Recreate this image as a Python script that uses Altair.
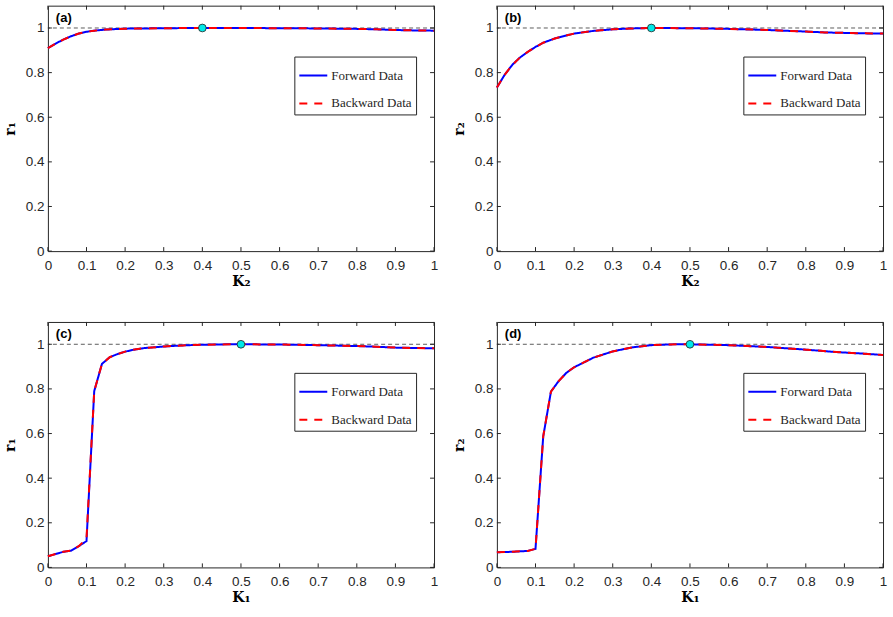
import altair as alt
import pandas as pd

# ---- data -------------------------------------------------------------
# (a) r1 versus K2
k2_a = [0, 0.02, 0.04, 0.06, 0.08, 0.1, 0.12, 0.15, 0.2, 0.25, 0.3, 0.35, 0.4,
        0.5, 0.6, 0.7, 0.8, 0.85, 0.9, 0.95, 1.0]
r1_a_fwd = [0.91, 0.93, 0.948, 0.963, 0.975, 0.983, 0.988, 0.993, 0.997, 0.998,
            0.999, 0.9995, 1.0, 1.0, 0.999, 0.998, 0.996, 0.994, 0.991, 0.989, 0.988]
r1_a_bwd = [0.91, 0.93, 0.948, 0.963, 0.975, 0.983, 0.988, 0.993, 0.997, 0.998,
            0.999, 0.9995, 1.0, 1.0, 0.999, 0.998, 0.996, 0.994, 0.991, 0.989, 0.988]

# (b) r2 versus K2
k2_b = [0, 0.02, 0.04, 0.06, 0.08, 0.1, 0.12, 0.15, 0.2, 0.25, 0.3, 0.35, 0.4,
        0.5, 0.6, 0.7, 0.8, 0.85, 0.9, 0.95, 1.0]
r2_b_fwd = [0.733, 0.79, 0.835, 0.868, 0.893, 0.915, 0.934, 0.953, 0.975, 0.987,
            0.994, 0.998, 1.0, 0.999, 0.996, 0.991, 0.984, 0.98, 0.978, 0.976, 0.975]
r2_b_bwd = [0.733, 0.79, 0.835, 0.868, 0.893, 0.915, 0.934, 0.953, 0.975, 0.987,
            0.994, 0.998, 1.0, 0.999, 0.996, 0.991, 0.984, 0.98, 0.978, 0.976, 0.975]

# (c) r1 versus K1
k1_c = [0, 0.02, 0.04, 0.06, 0.08, 0.1, 0.12, 0.14, 0.16, 0.18, 0.2, 0.22, 0.25,
        0.3, 0.35, 0.4, 0.45, 0.5, 0.6, 0.7, 0.8, 0.85, 0.9, 1.0]
r1_c_fwd = [0.05, 0.06, 0.07, 0.075, 0.095, 0.118, 0.79, 0.912, 0.942, 0.956,
            0.967, 0.975, 0.983, 0.99, 0.995, 0.998, 0.9995, 1.0, 0.999, 0.996,
            0.992, 0.989, 0.985, 0.982]
r1_c_bwd = [0.05, 0.06, 0.07, 0.075, 0.095, 0.13, 0.79, 0.912, 0.942, 0.956,
            0.967, 0.975, 0.983, 0.99, 0.995, 0.998, 0.9995, 1.0, 0.999, 0.996,
            0.992, 0.989, 0.985, 0.982]

# (d) r2 versus K1
k1_d = [0, 0.04, 0.08, 0.1, 0.12, 0.14, 0.16, 0.18, 0.2, 0.22, 0.25, 0.3, 0.35,
        0.4, 0.45, 0.5, 0.6, 0.7, 0.8, 0.88, 0.95, 1.0]
r2_d_fwd = [0.068, 0.07, 0.074, 0.083, 0.587, 0.788, 0.835, 0.872, 0.897, 0.914,
            0.94, 0.968, 0.986, 0.996, 0.9995, 1.0, 0.996, 0.988, 0.976, 0.965,
            0.958, 0.952]
r2_d_bwd = [0.068, 0.07, 0.074, 0.083, 0.587, 0.788, 0.835, 0.872, 0.897, 0.914,
            0.94, 0.968, 0.986, 0.996, 0.9995, 1.0, 0.996, 0.988, 0.976, 0.965,
            0.958, 0.952]

x_ticks = [0, 0.1, 0.2, 0.3, 0.4, 0.5, 0.6, 0.7, 0.8, 0.9, 1.0]
y_ticks = [0, 0.2, 0.4, 0.6, 0.8, 1.0]
series_names = ["Forward Data", "Backward Data"]

# ---- styling ------------------------------------------------------------
W, H = 387, 246
AX = "#262626"
TICK_FONT = "Liberation Sans"
TITLE_FONT = "DejaVu Serif"
LEG_FONT = "Liberation Serif"

x_scale = alt.Scale(domain=[0, 1], nice=False, zero=False)
y_scale = alt.Scale(domain=[0, 1.1], nice=False, zero=False)
color_scale = alt.Scale(domain=series_names, range=["#0000FF", "#FF0000"])
dash_scale = alt.Scale(domain=series_names, range=[[1, 0], [8, 7]])


def make_legend():
    return alt.Legend(
        title=None, orient="none", legendX=247, legendY=51,
        fillColor="white", strokeColor=AX, padding=4,
        symbolType="stroke", symbolSize=784, symbolStrokeWidth=2,
        labelFont=LEG_FONT, labelFontSize=13, labelColor=AX,
        labelOffset=3, rowPadding=6, labelLimit=200,
    )


def panel(xs, fwd, bwd, xtitle, ytitle, tag, mark_x):
    n = len(xs)
    df = pd.DataFrame({
        "k": list(xs) + list(xs),
        "r": list(fwd) + list(bwd),
        "series": [series_names[0]] * n + [series_names[1]] * n,
    })

    # every layer carries the same axis definition so that they merge cleanly
    x_axis = alt.Axis(values=x_ticks, format="~g", title=xtitle,
                      labelPadding=7, titlePadding=3)
    y_axis = alt.Axis(values=y_ticks, format="~g", title=ytitle,
                      labelPadding=4, titlePadding=8)

    def X(field):
        return alt.X(field, scale=x_scale, axis=x_axis)

    def Y(field):
        return alt.Y(field, scale=y_scale, axis=y_axis)

    # dashed reference at r = 1
    ref = alt.Chart(pd.DataFrame({"one": [1.0]})).mark_rule(
        color="#333333", strokeWidth=0.8, strokeDash=[4, 3]
    ).encode(y=Y("one:Q"))

    def line_layer(name):
        return alt.Chart(df).transform_filter(
            alt.datum.series == name
        ).mark_line(strokeWidth=2, strokeCap="butt").encode(
            x=X("k:Q"),
            y=Y("r:Q"),
            color=alt.Color("series:N", scale=color_scale, legend=make_legend()),
            strokeDash=alt.StrokeDash("series:N", scale=dash_scale, legend=make_legend()),
        )

    opt = alt.Chart(pd.DataFrame({"k": [mark_x], "r": [1.0]})).mark_point(
        shape="circle", filled=True, size=60, fill="#00E8E8", stroke="#222222",
        strokeWidth=0.8, opacity=1,
    ).encode(x=X("k:Q"), y=Y("r:Q"))

    # inward tick marks on all four sides of the frame
    xt = pd.DataFrame({"v": x_ticks})
    yt = pd.DataFrame({"v": y_ticks})
    tick_style = dict(color=AX, strokeWidth=1)
    bottom = alt.Chart(xt).mark_rule(**tick_style).encode(
        x=X("v:Q"), y=alt.YDatum(0, axis=y_axis), y2=alt.Y2Datum(0.018))
    top = alt.Chart(xt).mark_rule(**tick_style).encode(
        x=X("v:Q"), y=alt.YDatum(1.1, axis=y_axis), y2=alt.Y2Datum(1.082))
    left = alt.Chart(yt).mark_rule(**tick_style).encode(
        y=Y("v:Q"), x=alt.XDatum(0, axis=x_axis), x2=alt.X2Datum(0.0103))
    right = alt.Chart(yt).mark_rule(**tick_style).encode(
        y=Y("v:Q"), x=alt.XDatum(1.0, axis=x_axis), x2=alt.X2Datum(0.9897))

    label = alt.Chart(pd.DataFrame({"tag": [tag]})).mark_text(
        font=TICK_FONT, fontWeight="bold", fontSize=13, color="black",
        align="left", baseline="middle",
    ).encode(text="tag:N", x=alt.value(8), y=alt.value(12))

    return alt.layer(
        ref, line_layer(series_names[0]), line_layer(series_names[1]),
        opt, bottom, top, left, right, label,
    ).properties(width=W, height=H)


pa = panel(k2_a, r1_a_fwd, r1_a_bwd, "K₂", "r₁", "(a)", 0.4)
pb = panel(k2_b, r2_b_fwd, r2_b_bwd, "K₂", "r₂", "(b)", 0.4)
pc = panel(k1_c, r1_c_fwd, r1_c_bwd, "K₁", "r₁", "(c)", 0.5)
pd_ = panel(k1_d, r2_d_fwd, r2_d_bwd, "K₁", "r₂", "(d)", 0.5)

chart = alt.concat(
    pa, pb, pc, pd_, columns=2, spacing={"row": 71, "column": 63}
).resolve_scale(
    color="independent", strokeDash="independent"
).properties(
    bounds="flush",
    padding={"left": 2, "top": 4, "right": 5, "bottom": 5},
    background="white",
).configure_view(
    stroke=AX, strokeWidth=1,
).configure_axis(
    domain=False, ticks=False, grid=False, labelFlush=False, labelOverlap=False,
    labelFont=TICK_FONT, labelFontSize=13.5, labelColor=AX,
    titleFont=TITLE_FONT, titleFontWeight="bold", titleFontSize=14, titleColor="black",
)

chart.save("out.html", embed_options={"renderer": "svg", "actions": False})
